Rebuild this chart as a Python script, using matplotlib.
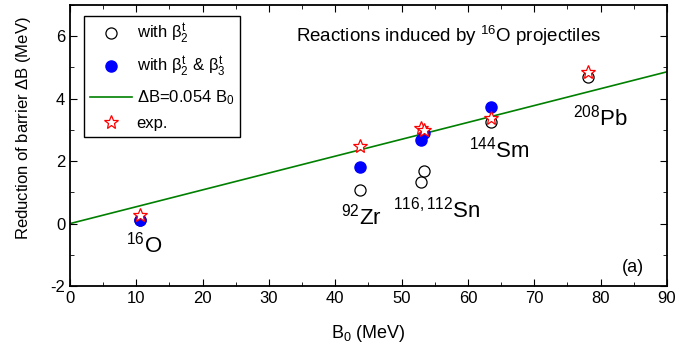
import matplotlib.pyplot as plt
from matplotlib.ticker import MultipleLocator

plt.rcParams['font.family'] = ['Liberation Sans', 'DejaVu Sans']
plt.rcParams['mathtext.fontset'] = 'custom'
plt.rcParams['mathtext.rm'] = 'Liberation Sans'
plt.rcParams['mathtext.it'] = 'Liberation Sans'
plt.rcParams['axes.unicode_minus'] = False

# datos
b0_beta2 = [10.5, 43.8, 52.9, 53.4, 63.5, 78.1]
db_beta2 = [0.10, 1.09, 1.32, 1.67, 3.25, 4.68]

b0_beta23 = [10.5, 43.8, 52.9, 53.4, 63.5]
db_beta23 = [0.10, 1.81, 2.68, 2.90, 3.72]

b0_exp = [10.5, 43.8, 52.9, 53.4, 63.5, 78.1]
db_exp = [0.29, 2.47, 3.06, 2.99, 3.38, 4.84]

pendiente = 0.054
b0_linea = [0, 90]

nucleos = ['$^{16}$O', '$^{92}$Zr', '$^{116,112}$Sn', '$^{144}$Sm', '$^{208}$Pb']
pos_nucleos = [(11.2, -0.67), (44.0, 0.22), (55.3, 0.45), (64.8, 2.37), (80.0, 3.39)]

fig, ax = plt.subplots(figsize=(6.77, 3.58), dpi=100)
fig.subplots_adjust(left=0.1034, right=0.985, top=0.986, bottom=0.201)

ax.plot(b0_beta23, db_beta23, 'o', color='blue', ms=8, zorder=3,
        label=r'with $\beta_2^t$ & $\beta_3^t$')
ax.plot(b0_beta2, db_beta2, 'o', mfc='white', mec='black', ms=8, mew=0.9, zorder=2,
        label=r'with $\beta_2^t$')
ax.plot(b0_linea, [pendiente * b for b in b0_linea], color='green', lw=1.2, zorder=1,
        label=r'$\Delta$B=0.054 B$_0$')
ax.plot(b0_exp, db_exp, '*', mfc='white', mec='red', ms=10, mew=0.9, zorder=4,
        label='exp.')

for nombre, (x, y) in zip(nucleos, pos_nucleos):
    ax.text(x, y, nombre, fontsize=16, ha='center', va='center')

ax.text(57.1, 6.0, 'Reactions induced by $^{16}$O projectiles', fontsize=13.5,
        ha='center', va='center')
ax.text(86.5, -1.4, '(a)', fontsize=13, ha='right', va='center')

ax.set_xlim(0, 90)
ax.set_ylim(-2, 7)
ax.xaxis.set_major_locator(MultipleLocator(10))
ax.xaxis.set_minor_locator(MultipleLocator(5))
ax.yaxis.set_major_locator(MultipleLocator(2))
ax.yaxis.set_minor_locator(MultipleLocator(1))
ax.tick_params(which='both', direction='in', top=True, right=True, labelsize=12)
ax.tick_params(which='major', length=5)
ax.tick_params(which='minor', length=3)
for s in ax.spines.values():
    s.set_linewidth(1.3)

ax.set_xlabel('B$_0$ (MeV)', fontsize=13, labelpad=12)
ax.set_ylabel(r'Reduction of barrier $\Delta$B (MeV)', fontsize=12)
ax.yaxis.set_label_coords(-0.062, 0.562)

h, l = ax.get_legend_handles_labels()
orden = [1, 0, 2, 3]
ax.legend([h[i] for i in orden], [l[i] for i in orden], loc='upper left',
          bbox_to_anchor=(0.0235, 0.961), borderaxespad=0, fontsize=12,
          fancybox=False, edgecolor='black', framealpha=1, handlelength=2.5,
          handletextpad=0.3, borderpad=0.35, labelspacing=0.55)

plt.savefig('out.png')
